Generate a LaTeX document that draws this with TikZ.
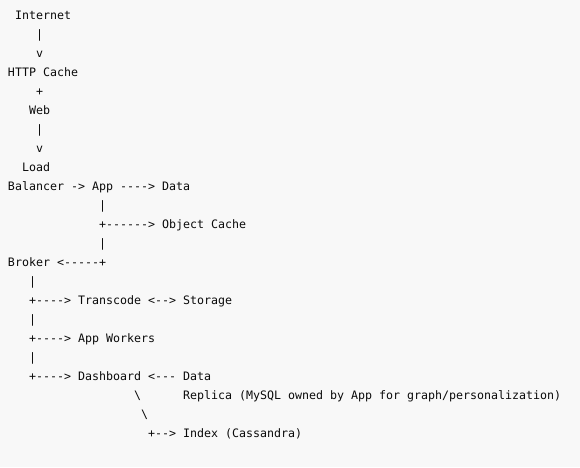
\documentclass[tikz,border=0pt]{standalone}
\usepackage{fontspec}
\setmonofont{DejaVu Sans Mono}
\definecolor{bgc}{HTML}{F8F8F8}
\definecolor{txc}{HTML}{0A0A0A}
\tikzset{tx/.style={anchor=base west, inner sep=0pt, outer sep=0pt, text=txc, font=\ttfamily\fontsize{11.63pt}{14pt}\selectfont}}
\newcommand\tok[4]{\node[tx] (#1) at ({(8+7*#2)*1pt}, {(-19.5-19*#3)*1pt}) {#4};}
\begin{document}
\begin{tikzpicture}
\fill[bgc] (0,0) rectangle (580pt,-467pt);
\useasboundingbox (0,0) rectangle (580pt,-467pt);
\tok{internet}{1}{0}{Internet}
\tok{c1}{4}{1}{|}
\tok{c2}{4}{2}{v}
\tok{http}{0}{3}{HTTP Cache}
\tok{c3}{4}{4}{+}
\tok{web}{3}{5}{Web}
\tok{c4}{4}{6}{|}
\tok{c5}{4}{7}{v}
\tok{load}{2}{8}{Load}
\tok{balancer}{0}{9}{Balancer}
\tok{c6}{9}{9}{->}
\tok{app}{12}{9}{App}
\tok{c7}{16}{9}{---->}
\tok{data}{22}{9}{Data}
\tok{c8}{13}{10}{|}
\tok{c9}{13}{11}{+------>}
\tok{objcache}{22}{11}{Object Cache}
\tok{c10}{13}{12}{|}
\tok{broker}{0}{13}{Broker}
\tok{c11}{7}{13}{<-----+}
\tok{c12}{3}{14}{|}
\tok{c13}{3}{15}{+---->}
\tok{transcode}{10}{15}{Transcode}
\tok{c14}{20}{15}{<-->}
\tok{storage}{25}{15}{Storage}
\tok{c15}{3}{16}{|}
\tok{c16}{3}{17}{+---->}
\tok{workers}{10}{17}{App Workers}
\tok{c17}{3}{18}{|}
\tok{c18}{3}{19}{+---->}
\tok{dashboard}{10}{19}{Dashboard}
\tok{c19}{20}{19}{<---}
\tok{datarep}{25}{19}{Data}
\tok{c20}{18}{20}{\textbackslash}
\tok{replica}{25}{20}{Replica (MySQL owned by App for graph/personalization)}
\tok{c21}{19}{21}{\textbackslash}
\tok{c22}{20}{22}{+-->}
\tok{index}{25}{22}{Index (Cassandra)}
\end{tikzpicture}
\end{document}
